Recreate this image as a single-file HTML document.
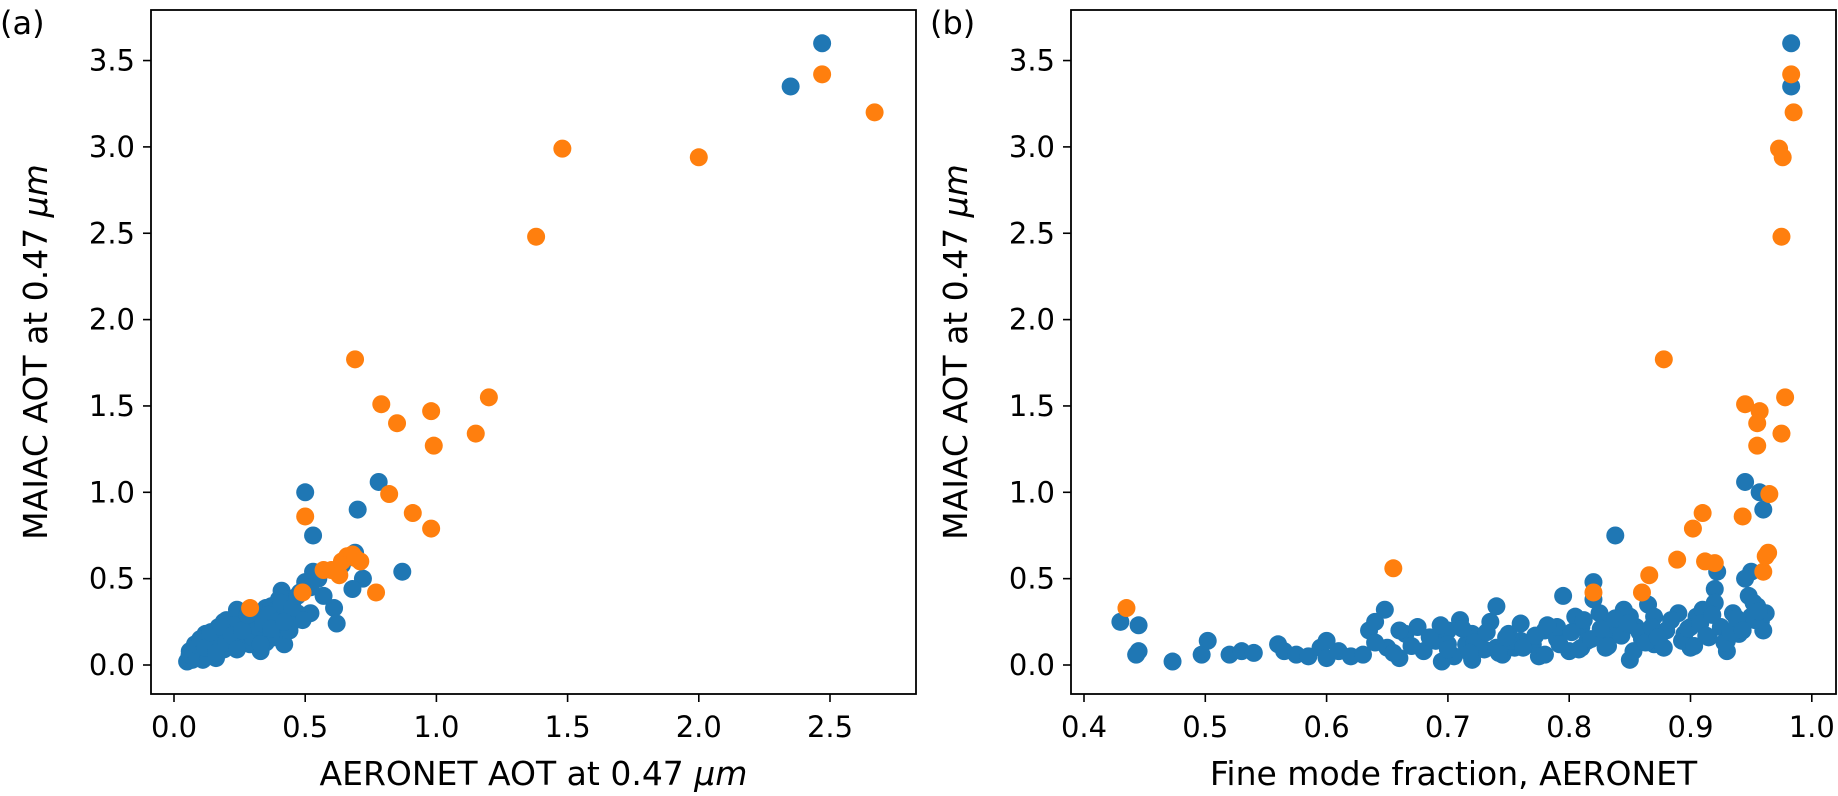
<!DOCTYPE html>
<html><head><meta charset="utf-8">
<style>
html,body{margin:0;padding:0;background:#fff;}
svg{display:block;font-family:"DejaVu Sans","Liberation Sans",sans-serif;}
</style></head>
<body>
<svg id="fig" width="1838" height="796" viewBox="0 0 1838 796"></svg>
<script>
// Panel (a) data: AERONET AOT vs MAIAC AOT
const aOrangeX=[0.29,0.49,0.50,0.57,0.60,0.63,0.64,0.66,0.68,0.69,0.71,0.69,0.77,0.79,0.82,0.85,0.91,0.98,0.99,0.98,1.15,1.20,1.38,1.48,2.00,2.47,2.67];
const aOrangeY=[0.33,0.42,0.86,0.55,0.55,0.52,0.60,0.63,0.64,0.62,0.60,1.77,0.42,1.51,0.99,1.40,0.88,1.47,1.27,0.79,1.34,1.55,2.48,2.99,2.94,3.42,3.20];
const aBlueX=[2.35,2.47,0.50,0.53,0.70,0.78,0.87,0.72,0.68,0.61,0.62,0.69,0.55,0.53,0.50,0.48,0.42,0.40,0.41,0.33,0.38,0.36,0.45,0.47,0.44,0.30,0.32,0.35,0.28,0.26,0.25,0.22,0.20,0.18,0.17,0.15,0.14,0.12,0.11,0.10,0.09,0.08,0.07,0.07,0.06,0.06,0.08,0.09,0.10,0.12,0.13,0.15,0.16,0.18,0.19,0.21,0.23,0.24,0.27,0.29,0.31,0.34,0.37,0.39,0.43,0.46,0.52,0.57,0.64,0.20,0.22,0.25,0.28,0.31,0.14,0.16,0.11,0.13,0.09,0.10,0.12,0.17,0.19,0.24,0.26,0.30,0.33,0.36,0.40,0.05,0.06,0.07,0.08,0.35,0.38,0.44,0.49,
 0.06,0.07,0.08,0.09,0.10,0.11,0.12,0.13,0.14,0.15,0.16,0.17,0.18,0.19,0.21,0.22,0.23,0.25,0.27,0.29,0.30,0.32,0.34,0.36,0.37,0.39,0.41,0.43,0.45,0.47,0.08,0.10,0.12,0.14,0.16,0.18,0.20,0.22,0.24,0.26,0.28,0.33,0.37,0.42,0.52];
const aBlueY=[3.35,3.60,1.00,0.75,0.90,1.06,0.54,0.50,0.44,0.33,0.24,0.65,0.50,0.54,0.48,0.42,0.12,0.38,0.43,0.08,0.30,0.26,0.35,0.30,0.22,0.20,0.28,0.33,0.25,0.22,0.18,0.24,0.20,0.16,0.14,0.12,0.10,0.13,0.09,0.07,0.08,0.05,0.06,0.03,0.04,0.08,0.10,0.05,0.11,0.06,0.15,0.08,0.04,0.10,0.13,0.17,0.12,0.27,0.15,0.12,0.20,0.27,0.34,0.32,0.38,0.28,0.30,0.40,0.58,0.26,0.22,0.30,0.18,0.24,0.16,0.20,0.03,0.07,0.12,0.14,0.18,0.22,0.25,0.32,0.14,0.30,0.22,0.18,0.21,0.02,0.06,0.09,0.04,0.13,0.16,0.20,0.26,
 0.06,0.09,0.11,0.04,0.13,0.08,0.16,0.05,0.12,0.18,0.10,0.14,0.21,0.09,0.19,0.15,0.23,0.17,0.20,0.26,0.16,0.22,0.24,0.29,0.18,0.25,0.36,0.27,0.33,0.40,0.12,0.15,0.10,0.19,0.07,0.22,0.13,0.17,0.09,0.20,0.29,0.12,0.21,0.25,0.45];
// Panel (b) data: fine mode fraction vs MAIAC AOT
const bOrangeX=[0.435,0.655,0.878,0.82,0.86,0.866,0.889,0.902,0.910,0.912,0.920,0.943,0.945,0.957,0.955,0.955,0.960,0.962,0.964,0.965,0.978,0.975,0.975,0.973,0.976,0.983,0.985];
const bOrangeY=[0.33,0.56,1.77,0.42,0.42,0.52,0.61,0.79,0.88,0.60,0.59,0.86,1.51,1.47,1.40,1.27,0.54,0.63,0.65,0.99,1.55,1.34,2.48,2.99,2.94,3.42,3.20];
const bBlueX=[0.983,0.983,0.945,0.957,0.960,0.838,0.950,0.922,0.920,0.820,0.430,0.445,0.445,0.443,0.473,0.497,0.502,0.520,0.530,0.540,0.560,0.565,0.575,0.585,0.595,0.600,0.610,0.620,0.630,0.635,0.640,0.648,0.650,0.660,0.665,0.675,0.680,0.690,0.695,0.700,0.705,0.710,0.715,0.720,0.725,0.730,0.735,0.740,0.745,0.750,0.755,0.760,0.770,0.775,0.780,0.790,0.795,0.800,0.805,0.810,0.815,0.820,0.825,0.830,0.835,0.840,0.845,0.850,0.855,0.860,0.865,0.870,0.875,0.880,0.890,0.895,0.900,0.905,0.910,0.915,0.920,0.925,0.930,0.935,0.940,0.945,0.950,0.955,0.958,0.960,0.962,0.700,0.720,0.760,0.790,0.810,0.830,0.850,0.870,0.900,0.930,0.948,0.953,0.600,0.660,0.740,0.780,
 0.640,0.655,0.670,0.685,0.700,0.712,0.722,0.732,0.742,0.752,0.762,0.772,0.782,0.792,0.802,0.808,0.812,0.818,0.826,0.832,0.838,0.843,0.848,0.853,0.858,0.863,0.868,0.873,0.878,0.884,0.893,0.898,0.903,0.908,0.913,0.918,0.928,0.933,0.938,0.943,0.952,0.956,0.694,0.718,0.748];
const bBlueY=[3.60,3.35,1.06,1.00,0.90,0.75,0.54,0.54,0.44,0.48,0.25,0.23,0.08,0.06,0.02,0.06,0.14,0.06,0.08,0.07,0.12,0.08,0.06,0.05,0.10,0.04,0.08,0.05,0.06,0.20,0.25,0.32,0.10,0.04,0.18,0.22,0.08,0.14,0.02,0.20,0.05,0.26,0.12,0.03,0.16,0.09,0.25,0.34,0.06,0.18,0.10,0.24,0.12,0.05,0.20,0.15,0.40,0.08,0.28,0.22,0.14,0.38,0.30,0.10,0.25,0.18,0.32,0.03,0.22,0.15,0.35,0.28,0.12,0.20,0.30,0.18,0.10,0.28,0.32,0.16,0.36,0.22,0.14,0.30,0.18,0.50,0.28,0.34,0.25,0.20,0.30,0.12,0.18,0.14,0.22,0.10,0.16,0.28,0.12,0.22,0.08,0.40,0.26,0.14,0.20,0.10,0.06,
 0.13,0.07,0.11,0.16,0.09,0.21,0.13,0.19,0.07,0.14,0.10,0.17,0.23,0.12,0.19,0.09,0.26,0.15,0.21,0.11,0.27,0.17,0.24,0.08,0.19,0.13,0.22,0.16,0.10,0.26,0.14,0.21,0.11,0.24,0.17,0.29,0.13,0.19,0.27,0.20,0.36,0.31,0.23,0.07,0.16];
const aXTicks=[0.0,0.5,1.0,1.5,2.0,2.5];
const bXTicks=[0.4,0.5,0.6,0.7,0.8,0.9,1.0];
const yTicks=[0.0,0.5,1.0,1.5,2.0,2.5,3.0,3.5];

const NS="http://www.w3.org/2000/svg";
const svg=document.getElementById('fig');
function el(tag,attrs,parent){const e=document.createElementNS(NS,tag);for(const k in attrs)e.setAttribute(k,attrs[k]);(parent||svg).appendChild(e);return e;}
const yScale=v=>665-v*172.7;
const BLUE="#1f77b4",ORANGE="#ff7f0e";

function panel(opts){
  const g=el('g',{});
  
  
  const L=opts.left,R=opts.right,T=10,B=694;
  const pts=el('g',{},g);
  
  
  opts.bx.forEach((x,i)=>{
    const c=el('circle',{cx:opts.xs(x),cy:yScale(opts.by[i]),r:9,fill:BLUE},pts);
    
    
  });
  const pts2=el('g',{},g);
  
  
  opts.ox.forEach((x,i)=>{
    const c=el('circle',{cx:opts.xs(x),cy:yScale(opts.oy[i]),r:9,fill:ORANGE},pts2);
    
    
  });
  const f=el('rect',{x:L,y:T,width:R-L,height:B-T,fill:'none',stroke:'#000','stroke-width':1.8},g);
  
  
  opts.xt.forEach(v=>{
    const x=opts.xs(v);
    el('line',{x1:x,x2:x,y1:B,y2:B+8,stroke:'#000','stroke-width':1.6},g);
    const t=el('text',{x:x,y:B+43,'font-size':29,'text-anchor':'middle'},g);
    t.textContent=v.toFixed(1);
    
    
  });
  yTicks.forEach(v=>{
    const y=yScale(v);
    el('line',{x1:L-8,x2:L,y1:y,y2:y,stroke:'#000','stroke-width':1.6},g);
    const t=el('text',{x:L-16,y:y+10,'font-size':29,'text-anchor':'end'},g);
    t.textContent=v.toFixed(1);
    
    
  });
  const xl=el('text',{x:(L+R)/2,y:785,'font-size':33,'text-anchor':'middle'},g);
  xl.innerHTML=opts.xlabel;
  
  
  const yl=el('text',{x:0,y:0,'font-size':33,'text-anchor':'middle',transform:`translate(${L-104},${(T+B)/2}) rotate(-90)`},g);
  yl.innerHTML='MAIAC AOT at 0.47 <tspan font-style="italic">μm</tspan>';
  
  
  const pl=el('text',{x:opts.plx,y:34,'font-size':32},g);
  pl.textContent=opts.plabel;
  
  
}
panel({name:'panel-a',left:151,right:916,xs:v=>174+v*262.4,bx:aBlueX,by:aBlueY,ox:aOrangeX,oy:aOrangeY,xt:aXTicks,
  xlabel:'AERONET AOT at 0.47 <tspan font-style="italic">μm</tspan>',plabel:'(a)',plx:0});
panel({name:'panel-b',left:1071,right:1836,xs:v=>1084+(v-0.4)*1213,bx:bBlueX,by:bBlueY,ox:bOrangeX,oy:bOrangeY,xt:bXTicks,
  xlabel:'Fine mode fraction, AERONET',plabel:'(b)',plx:930});
</script>
</body></html>
